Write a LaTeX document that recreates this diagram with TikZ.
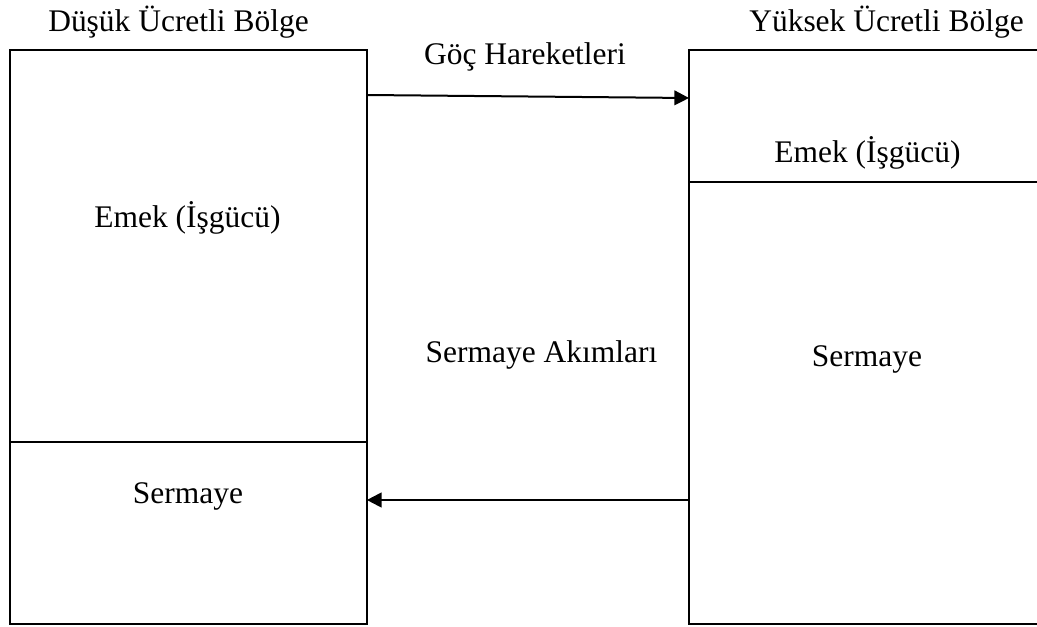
\documentclass[tikz,border=0pt]{standalone}
\usepackage{fontspec}
\setmainfont{Liberation Serif}
\usetikzlibrary{positioning,arrows.meta}
\tikzstyle{kutu}=[rectangle,draw,line width=1.5pt,inner sep=0pt,outer sep=0pt]
\tikzstyle{yazi}=[anchor=base,inner sep=0pt,font=\fontsize{23.6pt}{28pt}\selectfont]
\tikzstyle{ok}=[-{Triangle[length=11pt,width=11pt]},line width=1.5pt]

\begin{document}
\begin{tikzpicture}[x=0.75pt,y=-0.75pt]

\useasboundingbox (0,0) rectangle (1037,627);
\clip (0,0) rectangle (1037,627);

\node[kutu,anchor=north west,minimum width=268pt,minimum height=294pt] (solemek) at (9.5,50) {};
\node[kutu,minimum width=268pt,minimum height=136.5pt] (solsermaye) [below =0pt of solemek] {};
\node[kutu,anchor=north west,minimum width=270pt,minimum height=99pt] (sagemek) at (689,50) {};
\node[kutu,minimum width=270pt,minimum height=331.5pt] (sagsermaye) [below =0pt of sagemek] {};

\node[yazi] (baslik1) at (178.5,31.7) {Düşük Ücretli Bölge};
\node[yazi] (baslik2) at (886.5,31.7) {Yüksek Ücretli Bölge};
\node[yazi] (goc) at (525,65) {Göç Hareketleri};
\node[yazi] (emek1) at (187.5,228) {Emek (İşgücü)};
\node[yazi] (emek2) at (867.5,163) {Emek (İşgücü)};
\node[yazi] (akim) at (541.5,362) {Sermaye Akımları};
\node[yazi] (sermaye2) at (867,366) {Sermaye};
\node[yazi] (sermaye1) at (188,503) {Sermaye};

\draw[ok] ([yshift=-33.75pt]solemek.north east) -- ([yshift=-36pt]sagemek.north west);
\draw[ok] ([yshift=-238.5pt]sagsermaye.north west) -- ([yshift=-43.5pt]solsermaye.north east);

\end{tikzpicture}
\end{document}
